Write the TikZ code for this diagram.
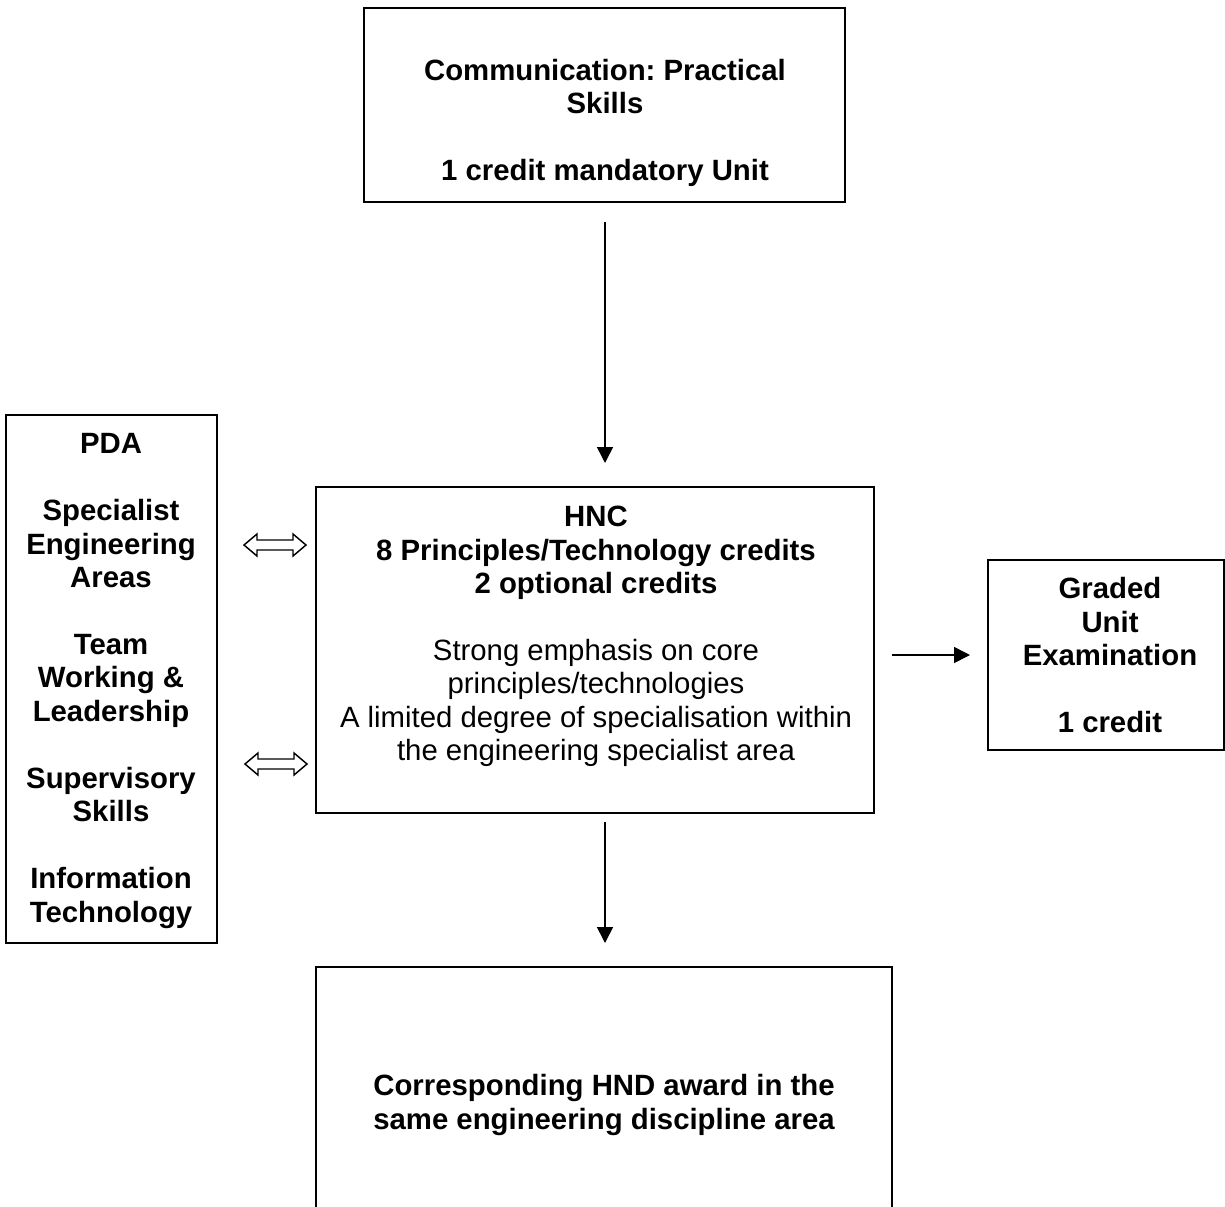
\documentclass[tikz,border=0pt]{standalone}
\usepackage{fontspec}
\setmainfont{Liberation Sans}
\usetikzlibrary{fit,arrows.meta}
\frenchspacing
\begin{document}
\begin{tikzpicture}[x=0.75pt,y=-0.75pt,
  boxfr/.style={draw, line width=1.2pt, inner sep=0pt},
  bodyfr/.style={inner sep=0pt},
  txt/.style={align=center, inner sep=0pt, font=\fontsize{22}{25.1}\selectfont\bfseries},
  txtn/.style={align=center, inner sep=0pt, font=\fontsize{22}{25.1}\selectfont},
  arr/.style={line width=1.2pt, -{Triangle[length=12pt,width=12pt]}},
  dblarrow/.pic={\draw[line width=1.1pt, line join=miter] (-31,0) -- (-18,-11) -- (-18,-5) -- (18,-5) -- (18,-11) -- (31,0) -- (18,11) -- (18,5) -- (-18,5) -- (-18,11) -- cycle;}
]
\useasboundingbox (0,0) rectangle (1225,1207);
\fill[white] (0,0) rectangle (1225,1207);

% boxes
\node[boxfr, fit={(364,8)(845,202)}] (top) {};
\node[boxfr, fit={(6,415)(217,943)}] (pda) {};
\node[boxfr, fit={(316,487)(874,813)}] (hnc) {};
\node[boxfr, fit={(988,560)(1224,750)}] (grad) {};
\node[bodyfr, fit={(316,967)(892,1207)}] (hnd) {};
\draw[line width=1.2pt] (hnd.south west) -- (hnd.north west) -- (hnd.north east) -- (hnd.south east);

% texts
\node[txt] (toptxt) at (605,123) {Communication: Practical\\Skills\\[25.1pt]1 credit mandatory Unit};
\node[txt] (pdatxt) at (111,681) {PDA\\[25.1pt]Specialist\\Engineering\\Areas\\[25.1pt]Team\\Working \&\\Leadership\\[25.1pt]Supervisory\\Skills\\[25.1pt]Information\\Technology};
\node[txt] (hnctxt1) at (596,553) {HNC\\8 Principles/Technology credits\\2 optional credits};
\node[txtn] (hnctxt2) at (596,703) {Strong emphasis on core\\principles/technologies\\A limited degree of specialisation within\\the engineering specialist area};
\node[txt] (gradtxt) at (1110,655) {Graded\\Unit\\Examination\\[25.1pt]1 credit};
\node[txt] (hndtxt) at (604,1105) {Corresponding HND award in the\\same engineering discipline area};

% connectors
\coordinate (a1s) at (605,222);
\coordinate (a1e) at (605,463);
\draw[arr] (a1s) -- (a1e);
\coordinate (a2s) at (605,822);
\coordinate (a2e) at (605,943);
\draw[arr] (a2s) -- (a2e);
\coordinate (a3s) at (892,655);
\coordinate (a3e) at (970,655);
\draw[arr] (a3s) -- (a3e);

\pic (da1) at (275,545) {dblarrow};
\pic (da2) at (276,764) {dblarrow};
\end{tikzpicture}
\end{document}
